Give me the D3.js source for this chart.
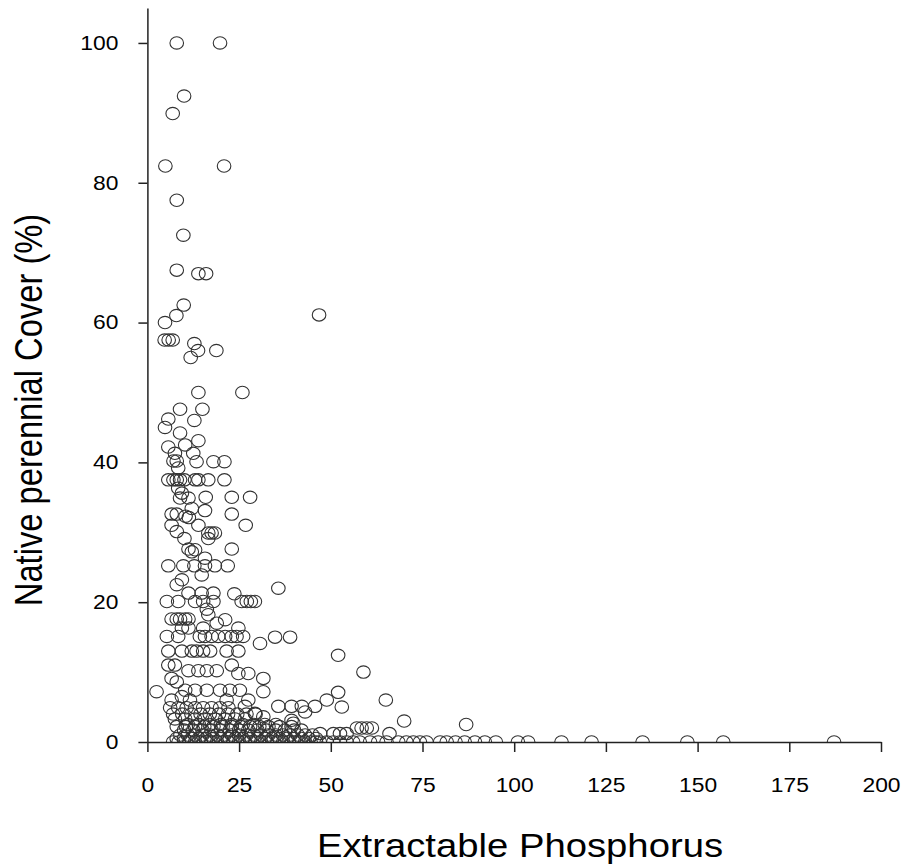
<!DOCTYPE html>
<html>
<head>
<meta charset="utf-8">
<script src="https://cdn.jsdelivr.net/npm/d3@7"></script>
<style>
  html, body { margin: 0; padding: 0; background: #fff; }
  svg { display: block; font-family: "Liberation Sans", Arial, sans-serif; }
</style>
</head>
<body>
<svg id="chart" width="907" height="868"></svg>
<script>
// --- data: [extractable phosphorus, native perennial cover %] ---
const upperPoints = [
  [8.0,100],[19.8,100],[10,92.4],[6.9,89.9],[4.9,82.4],[20.9,82.4],[8.0,77.5],[9.8,72.5],
  [8.0,67.5],[13.9,67],[16,67],[9.9,62.5],[7.9,61],[46.8,61.1],[4.8,60],[4.7,57.5],[5.8,57.5],
  [6.9,57.5],[12.8,57],[13.8,56],[18.8,56],[11.8,55],[13.9,50],[25.9,50],[8.9,47.6],[15,47.6],
  [5.7,46.2],[12.8,46],[4.8,45]
];
const midPoints = [
  [8.9,44.2],[13.9,43.1],[5.7,42.2],[10.3,42.5],[7.5,41.3],[12.5,41.3],[7.1,40.2],[8,40.2],
  [13.4,40.1],[18,40.1],[21,40.1],[8.4,39.2],[5.7,37.5],[7.1,37.5],[8,37.5],[8.9,37.5],[10.1,37.5],
  [13,37.5],[13.9,37.5],[16.6,37.5],[21,37.5],[8.4,36.3],[9.4,35.6],[8.9,34.9],[11.2,34.9],
  [15.9,35],[23,35],[28,35],[12.1,33.4],[15.7,33.1],[6.6,32.6],[8,32.6],[10.4,32.3],[11.3,32.1],
  [23,32.6],[6.6,31],[8,30.1],[13.9,31],[16.6,29.9],[17.5,29.9],[18.4,29.9],[16.6,29.1],[26.8,31],
  [10.1,29.1],[11.2,27.6],[12.1,27.2],[13,27.5],[23,27.6],[15.7,26.3],[5.7,25.2],[9.8,25.2],
  [12.8,25.2],[15.7,25.2],[18.4,25.2],[21.9,25.2],[14.8,23.9],[9.4,23.2],[8,22.5],[35.7,22],
  [11.2,21.3],[14.8,21.3],[18,21.3],[23.7,21.2],[5.3,20.1],[8.4,20.1],[13,20.1],[15.2,20.1],
  [18,20.1],[25.7,20.1],[27.1,20.1],[28.2,20.1],[29.3,20.1]
];
const lowPoints = [
  [16.2,19],[6.6,17.6],[8,17.6],[8.9,17.6],[10.3,17.6],[11.2,17.6],[16.6,18.2],[21.2,17.5],
  [18.9,17],[9.4,16.3],[11.2,16.3],[15.2,16.3],[24.8,16.3],[5.3,15.1],[8.4,15.1],[14.3,15.1],
  [15.7,15.1],[17.5,15.1],[19.3,15.1],[21.2,15.1],[23,15.1],[24.3,15.1],[26.1,15.1],[30.7,14.1],
  [34.8,15],[38.9,15],[5.7,13],[9.4,13],[12.1,13],[13.4,13],[15.2,13],[17.1,13],[21.6,13],
  [24.8,13],[52,12.4],[5.7,11],[7.5,11],[23,11],[11.2,10.2],[13.9,10.2],[16.2,10.2],[18.9,10.2],
  [58.9,10],[24.8,9.8],[27.5,9.8],[6.6,9.1],[31.6,9.1],[8,8.6],[10.3,7.4],[13,7.4],[16.2,7.4],
  [19.8,7.4],[22.5,7.4],[25.2,7.4],[2.5,7.2],[31.6,7.2],[52,7.1],[6.6,6],[9.4,6.5],[11.6,6],
  [21.6,6],[27.5,6],[48.9,6],[65,6],[35.7,5.1],[39.3,5.1],[42.1,5.1],[45.7,5.1],[53,5],
  [6.2,4.9],[8.4,4.9],[10.7,4.9],[13,4.9],[15.2,4.9],[17.5,4.9],[19.8,4.9],[22.1,4.9],[26.6,5.1],
  [29.3,4.1],[31.6,3.6],[43,4.3],[7.5,3.3],[10.3,3.3],[13,3.3],[15.7,3.3],[18.4,3.3],[21.2,3.3],
  [23.9,3.3],[26.6,3.3],[39.3,3.1],[70,3],[39.8,2.7],[39.3,2.2],[86.9,2.5],
  [7,4],[9.5,4],[12,4],[14.5,4],[17,4],[19.5,4],[22,4],[24.5,4],[27,4],[29.5,4]
];
const nearZeroPoints = [
  [57.1,2],[58.4,2],[59.8,2],[61.2,2],
  [11,2.5],[14,2.5],[17,2.5],[20,2.5],[23,2.5],[26,2.5],[29,2.5],[32,2.5],[35,2.5],
  [8,2.2],[10.5,2.2],[13,2.2],[15.5,2.2],[18,2.2],[20.5,2.2],[23,2.2],[25.5,2.2],[28,2.2],
  [30.5,2.2],[33,2.2],[36,2.2],
  [10,1.7],[12.5,1.7],[15,1.7],[17.5,1.7],[20,1.7],[22.5,1.7],[25,1.7],[27.5,1.7],[30,1.7],
  [32.5,1.7],[35,1.7],[37.5,1.7],[40,1.7],[42,1.7],
  [47.1,1.2],[50.7,1.2],[52.5,1.2],[54.3,1.2],[66,1.2],
  [9,1],[11,1],[13,1],[15,1],[17,1],[19,1],[21,1],[23,1],[25,1],[27,1],[29,1],[31,1],[33,1],
  [35,1],[37,1],[39,1],[41,1],[43,1],[45,1],
  [8,0.5],[10,0.5],[12,0.5],[14,0.5],[16,0.5],[18,0.5],[20,0.5],[22,0.5],[24,0.5],[26,0.5],
  [28,0.5],[30,0.5],[32,0.5],[34,0.5],[36,0.5],[38,0.5],[40,0.5],[42,0.5],[44,0.5],[46,0.5]
];
const zeroPhosphorus = [
  7,8.5,10,11.5,13,14.5,16,17.5,19,20.5,22,23.5,25,26.5,28,29.5,31,32.5,34,35.5,37,38.5,40,
  41.5,43,44.5,46,47,48.9,50.7,52.5,54.3,56.1,57.9,60.7,62.9,65.2,68.4,70.6,72.5,74.3,76.1,
  79.8,81.6,84,86.5,89.3,92,95,101,103.8,112.9,121.1,135,147.2,157,187.2
];

const xTicks = [0, 25, 50, 75, 100, 125, 150, 175, 200];
const yTicks = [0, 20, 40, 60, 80, 100];
const xTitle = "Extractable Phosphorus";
const yTitle = "Native perennial Cover (%)";

const points = upperPoints.concat(midPoints, lowPoints, nearZeroPoints,
  zeroPhosphorus.map(p => [p, 0]));

// --- layout ---
const svg = d3.select("#chart");
const plotLeft = 147.4, plotRight = 881, plotTop = 8, plotBottom = 742;
const stretch = 1.17; // the original picture is a little wider than tall

const x = d3.scaleLinear().domain([0, 200]).range([plotLeft, plotRight]);
const y = d3.scaleLinear().domain([0, 105]).range([plotBottom, plotTop]);

svg.append("defs").append("clipPath").attr("id", "plot-clip")
  .append("rect")
  .attr("x", plotLeft).attr("y", 0)
  .attr("width", plotRight - plotLeft + 10).attr("height", plotBottom);

// points (clipped so the zero-cover circles show only their upper half)
svg.append("g")
  .attr("clip-path", "url(#plot-clip)")
  .selectAll("ellipse")
  .data(points).join("ellipse")
  .attr("cx", d => x(d[0]))
  .attr("cy", d => y(d[1]))
  .attr("rx", 6.8)
  .attr("ry", 6.2)
  .attr("fill", "none")
  .attr("stroke", "#333")
  .attr("stroke-width", 1.1);

// axes
const xAxis = svg.append("g")
  .attr("transform", `translate(0,${plotBottom})`)
  .call(d3.axisBottom(x).tickValues(xTicks).tickSize(10).tickSizeOuter(0).tickPadding(26));

const yAxis = svg.append("g")
  .attr("transform", `translate(${plotLeft},0)`)
  .call(d3.axisLeft(y).tickValues(yTicks).tickSize(9).tickSizeOuter(0).tickPadding(20));

[xAxis, yAxis].forEach(a => {
  a.select(".domain").attr("stroke", "#222").attr("stroke-width", 1.5);
  a.selectAll(".tick line").attr("stroke", "#222").attr("stroke-width", 1.5);
  a.selectAll(".tick text")
    .attr("fill", "#000")
    .style("font-size", "19.5px")
    .style("font-family", "'Liberation Sans', Arial, sans-serif");
});

// stretch tick labels horizontally, anchored at their own positions
xAxis.selectAll(".tick text").attr("transform", `scale(${stretch},1)`);
yAxis.selectAll(".tick text").each(function () {
  const t = d3.select(this);
  const tx = +t.attr("x");
  t.attr("x", 0).attr("transform", `translate(${tx},0) scale(${stretch},1)`);
});

// titles
svg.append("text")
  .attr("transform", `translate(520,857) scale(${stretch},1)`)
  .attr("text-anchor", "middle")
  .style("font-size", "32.7px")
  .text(xTitle);

svg.append("text")
  .attr("transform", `translate(42,410) scale(${stretch},1) rotate(-90)`)
  .attr("text-anchor", "middle")
  .style("font-size", "32.7px")
  .text(yTitle);
</script>
</body>
</html>
